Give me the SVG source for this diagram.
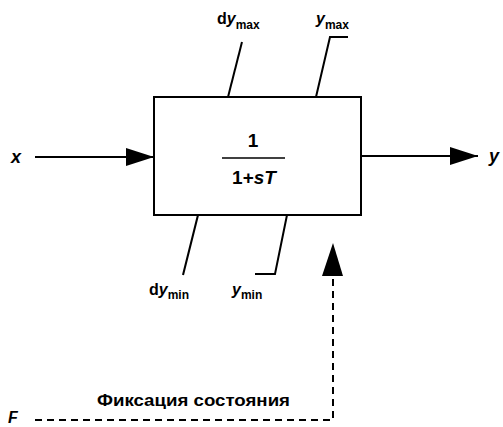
<svg xmlns="http://www.w3.org/2000/svg" width="503" height="427" viewBox="0 0 503 427">
<style>
  .t { font-family: "Liberation Sans", Arial, sans-serif; font-weight: bold; fill: #000; }
  .i { font-style: italic; }
  .ln { stroke: #000; stroke-width: 2; fill: none; }
  .ds { stroke: #000; stroke-width: 2; fill: none; stroke-dasharray: 7 5; }
</style>
<defs>
  <marker id="ah" markerWidth="28" markerHeight="18" refX="28" refY="9" orient="auto" markerUnits="userSpaceOnUse">
    <path d="M0,0 L28,9 L0,18 Z" fill="#000"/>
  </marker>
</defs>
<rect width="503" height="427" fill="#fff"/>
<g id="connectors">
  <line class="ln" x1="35" y1="157" x2="154" y2="157" marker-end="url(#ah)"/>
  <line class="ln" x1="361" y1="156" x2="478" y2="156" marker-end="url(#ah)"/>
  <polyline class="ds" points="35,420 333,420 333,275"/>
  <path d="M333,243 L343,276 L322,276 Z" fill="#000"/>
  <line class="ln" x1="228" y1="97" x2="242" y2="42"/>
  <polyline class="ln" points="316,97 330,37 348,37"/>
  <line class="ln" x1="198" y1="215" x2="183" y2="275"/>
  <polyline class="ln" points="287,215 275,274 255,274"/>
</g>
<g id="block">
  <rect x="154" y="97" width="207" height="118" fill="#fff" stroke="#000" stroke-width="2"/>
  <text class="t" x="253" y="147" font-size="19" text-anchor="middle">1</text>
  <line x1="222" y1="158" x2="285" y2="158" stroke="#000" stroke-width="1.5"/>
  <text class="t" x="254" y="184" font-size="19" text-anchor="middle">1+<tspan class="i">sT</tspan></text>
</g>
<g id="labels">
  <text class="t i" x="11" y="163" font-size="18">x</text>
  <text class="t i" x="489" y="162" font-size="18">y</text>
  <text class="t" x="217" y="24" font-size="16">d<tspan class="i">y</tspan><tspan font-size="12" dy="5">max</tspan></text>
  <text class="t" x="316" y="24" font-size="16"><tspan class="i">y</tspan><tspan font-size="12" dy="5">max</tspan></text>
  <text class="t" x="149" y="295" font-size="16">d<tspan class="i">y</tspan><tspan font-size="12" dy="4">min</tspan></text>
  <text class="t" x="232" y="295" font-size="16"><tspan class="i">y</tspan><tspan font-size="12" dy="4">min</tspan></text>
  <text class="t" x="97" y="406" font-size="16" textLength="193" lengthAdjust="spacingAndGlyphs">Фиксация состояния</text>
  <text class="t i" x="8" y="423" font-size="16">F</text>
</g>
</svg>
